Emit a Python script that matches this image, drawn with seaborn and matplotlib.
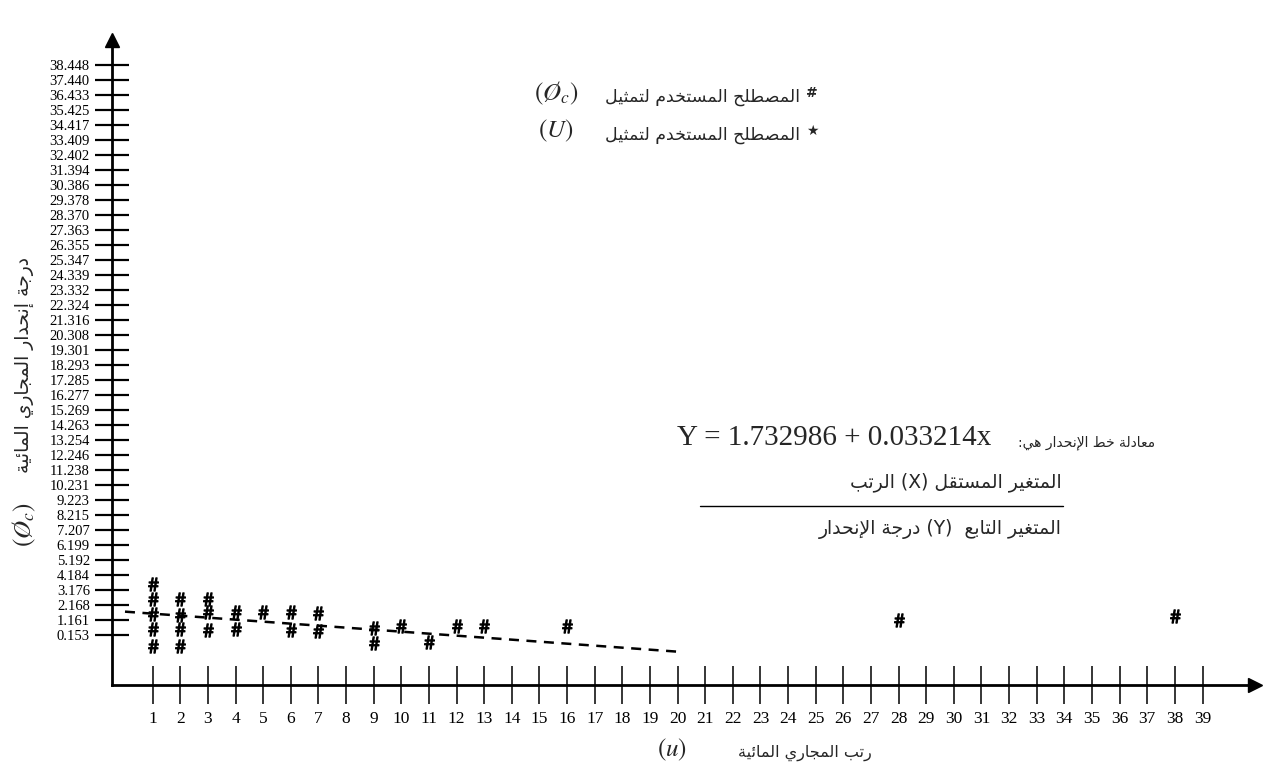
import numpy as np
import pandas as pd
import matplotlib
matplotlib.use("Agg")
import matplotlib.pyplot as plt
import seaborn as sns

# ---------------- data ----------------
rank = [1, 1, 1, 1, 1, 2, 2, 2, 2, 3, 3, 3, 4, 4, 5, 6, 6, 7, 7,
        9, 9, 10, 11, 12, 13, 16, 28, 38]
slope = [3.58, 2.57, 1.58, 0.56, -0.57, 2.57, 1.52, 0.56, -0.57,
         2.57, 1.74, 0.51, 1.74, 0.56, 1.74, 1.74, 0.51, 1.67, 0.46,
         0.62, -0.38, 0.78, -0.28, 0.78, 0.78, 0.78, 1.16, 1.45]
trend_x = [0, 20]
trend_y = [1.74, -0.95]

x_ticks = list(range(1, 40))
y_tick_labels = ["0.153", "1.161", "2.168", "3.176", "4.184", "5.192", "6.199",
                 "7.207", "8.215", "9.223", "10.231", "11.238", "12.246",
                 "13.254", "14.263", "15.269", "16.277", "17.285", "18.293",
                 "19.301", "20.308", "21.316", "22.324", "23.332", "24.339",
                 "25.347", "26.355", "27.363", "28.370", "29.378", "30.386",
                 "31.394", "32.402", "33.409", "34.417", "35.425", "36.433",
                 "37.440", "38.448"]

txt_legend = "المصطلح المستخدم لتمثيل"
txt_eq_label = "معادلة خط الإنحدار هي:"
txt_equation = "Y = 1.732986 + 0.033214x"
txt_xvar = "المتغير المستقل (X) الرتب"
txt_yvar = "المتغير التابع  (Y) درجة الإنحدار"
txt_ylabel = "درجة إنحدار المجاري المائية"
txt_xlabel = "رتب المجاري المائية"

# -------------- Arabic shaping (presentation forms + visual order) --------------
_dual = {'ئ': 0xFE89, 'ب': 0xFE8F, 'ت': 0xFE95, 'ث': 0xFE99, 'ج': 0xFE9D,
         'ح': 0xFEA1, 'خ': 0xFEA5, 'س': 0xFEB1, 'ش': 0xFEB5, 'ص': 0xFEB9,
         'ض': 0xFEBD, 'ط': 0xFEC1, 'ظ': 0xFEC5, 'ع': 0xFEC9, 'غ': 0xFECD,
         'ف': 0xFED1, 'ق': 0xFED5, 'ك': 0xFED9, 'ل': 0xFEDD, 'م': 0xFEE1,
         'ن': 0xFEE5, 'ه': 0xFEE9, 'ي': 0xFEF1}
_right = {'آ': 0xFE81, 'أ': 0xFE83, 'ؤ': 0xFE85, 'إ': 0xFE87, 'ا': 0xFE8D,
          'ة': 0xFE93, 'د': 0xFEA9, 'ذ': 0xFEAB, 'ر': 0xFEAD, 'ز': 0xFEAF,
          'و': 0xFEED, 'ى': 0xFEEF}
_lamalef = {'آ': 0xFEF5, 'أ': 0xFEF7, 'إ': 0xFEF9, 'ا': 0xFEFB}


def ar(s):
    out = []
    n = len(s)
    i = 0
    while i < n:
        c = s[i]
        prev_join = i > 0 and s[i - 1] in _dual
        if c == 'ل' and i + 1 < n and s[i + 1] in _lamalef:
            base = _lamalef[s[i + 1]]
            out.append(chr(base + 1 if prev_join else base))
            i += 2
            continue
        if c in _dual:
            nxt = i + 1 < n and (s[i + 1] in _dual or s[i + 1] in _right)
            base = _dual[c]
            if prev_join and nxt:
                out.append(chr(base + 3))
            elif prev_join:
                out.append(chr(base + 1))
            elif nxt:
                out.append(chr(base + 2))
            else:
                out.append(chr(base))
        elif c in _right:
            out.append(chr(_right[c] + 1 if prev_join else _right[c]))
        else:
            out.append(c)
        i += 1
    vis = ''.join(out)[::-1]
    mirror = {'(': ')', ')': '('}
    return ''.join(mirror.get(ch, ch) for ch in vis)


# ---------------- figure ----------------
sns.set_style("white")
plt.rcParams['font.family'] = ['DejaVu Sans']
plt.rcParams['mathtext.fontset'] = 'stix'

W, H = 1271, 770
fig = plt.figure(figsize=(W / 100, H / 100), dpi=100)
ax = fig.add_axes([112 / W, 85 / H, 1143 / W, 645 / H])


def P(x, y):
    return x / W, 1 - y / H


df = pd.DataFrame({"rank": rank, "slope": slope})
trend = pd.DataFrame({"x": trend_x, "y": trend_y})

sns.lineplot(data=trend, x="x", y="y", ax=ax, color="black", lw=1.8,
             linestyle=(0, (4, 3)))
sns.scatterplot(data=df, x="rank", y="slope", ax=ax, marker=r"$\#$",
                s=90, color="black", edgecolor="black", linewidth=0.9)

ax.set_xlim(-0.47, 40.9)
ax.set_ylim(-3.19, 40.16)
y_ticks = [float(v) for v in y_tick_labels]
ax.set_yticks(y_ticks)
ax.set_yticklabels(y_tick_labels, family="Liberation Serif", fontsize=10.5)
ax.set_xticks(x_ticks)
ax.set_xticklabels([str(v) for v in x_ticks], family="Liberation Serif",
                   fontsize=12.5)
ax.tick_params(axis="x", bottom=True, direction="inout", length=28,
               width=1.1, pad=5, colors="black")
ax.tick_params(axis="y", left=True, direction="inout", length=24,
               width=1.6, pad=4, colors="black")
ax.set_xlabel("")
ax.set_ylabel("")
for s in ["top", "right"]:
    ax.spines[s].set_visible(False)
for s in ["left", "bottom"]:
    ax.spines[s].set_linewidth(2.0)
    ax.spines[s].set_color("black")
ax.plot(1.0, 0, marker=">", ms=10, color="black", transform=ax.transAxes,
        clip_on=False)
ax.plot(0, 1.0, marker="^", ms=10, color="black", transform=ax.transAxes,
        clip_on=False)

PHI = r"$(\mathit{Ø}_{c})$"

# legend-like texts
fig.text(*P(812, 93), "#", fontsize=10, fontweight="bold", ha="center",
         va="center")
fig.text(*P(800, 97), ar(txt_legend), fontsize=12.5, ha="right", va="center")
fig.text(*P(556, 93), PHI, fontsize=18, ha="center", va="center")
fig.text(*P(812, 131), "★", fontsize=10, ha="center", va="center")
fig.text(*P(800, 135), ar(txt_legend), fontsize=12.5, ha="right", va="center")
fig.text(*P(556, 131), r"$(U)$", fontsize=18, ha="center", va="center")

# regression equation block
fig.text(*P(1155, 443), ar(txt_eq_label), fontsize=10, ha="right",
         va="center")
fig.text(*P(677, 438), txt_equation, family="Liberation Serif", fontsize=21,
         ha="left", va="center")
fig.text(*P(1062, 482), ar(txt_xvar), fontsize=13.5, ha="right", va="center")
fig.lines.append(plt.Line2D([700 / W, 1063 / W], [1 - 506 / H, 1 - 506 / H],
                            transform=fig.transFigure, color="black", lw=1.0))
fig.text(*P(1062, 529), ar(txt_yvar), fontsize=13.5, ha="right", va="center")

# axis titles
fig.text(*P(24, 365), ar(txt_ylabel), fontsize=13.5, rotation=90,
         ha="center", va="center")
fig.text(*P(24, 525), PHI, fontsize=18, rotation=90,
         ha="center", va="center")
fig.text(*P(805, 753), ar(txt_xlabel), fontsize=11.5, ha="center", va="center")
fig.text(*P(672, 750), r"$(\mathbf{\mathit{u}})$", fontsize=18, ha="center",
         va="center")

fig.savefig("out.png", dpi=100)
